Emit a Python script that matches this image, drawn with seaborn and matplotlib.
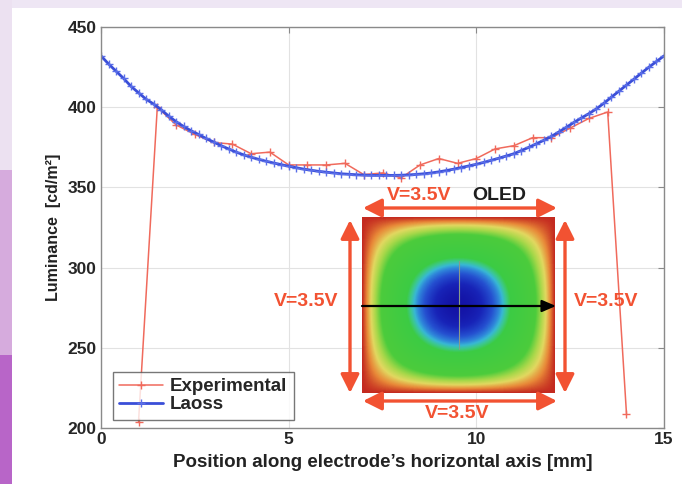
import numpy as np
import pandas as pd
import matplotlib
matplotlib.use("Agg")
import matplotlib.pyplot as plt
import seaborn as sns
from matplotlib.colors import LinearSegmentedColormap
from matplotlib.patches import Rectangle, FancyArrowPatch

# ---------------- data ----------------
exp_x = [1.0, 1.5, 2.0, 2.5, 3.0, 3.5, 4.0, 4.5, 5.0, 5.5, 6.0, 6.5, 7.0, 7.5,
         8.0, 8.5, 9.0, 9.5, 10.0, 10.5, 11.0, 11.5, 12.0, 12.5, 13.0, 13.5, 14.0]
exp_y = [204, 400, 389, 383, 378, 377, 371, 372, 364, 364, 364, 365, 358, 359,
         356, 364, 368, 365, 368, 374, 376, 381, 381, 387, 393, 397, 209]

laoss_x = [0.0, 0.2, 0.4, 0.6, 0.8, 1.0, 1.2, 1.4, 1.6, 1.8, 2.0, 2.2, 2.4, 2.6,
           2.8, 3.0, 3.2, 3.4, 3.6, 3.8, 4.0, 4.2, 4.4, 4.6, 4.8, 5.0, 5.2, 5.4,
           5.6, 5.8, 6.0, 6.2, 6.4, 6.6, 6.8, 7.0, 7.2, 7.4, 7.6, 7.8, 8.0, 8.2,
           8.4, 8.6, 8.8, 9.0, 9.2, 9.4, 9.6, 9.8, 10.0, 10.2, 10.4, 10.6, 10.8,
           11.0, 11.2, 11.4, 11.6, 11.8, 12.0, 12.2, 12.4, 12.6, 12.8, 13.0, 13.2,
           13.4, 13.6, 13.8, 14.0, 14.2, 14.4, 14.6, 14.8, 15.0]
laoss_y = [432, 427, 422.5, 418, 413, 409, 405, 402, 398.5, 394.5, 391, 388,
           385.3, 383, 380.5, 378.3, 376, 374, 372, 370.3, 368.8, 367.5, 366.3,
           365.2, 364.2, 363.2, 362.3, 361.4, 360.7, 360, 359.5, 359, 358.5,
           358.2, 357.9, 357.7, 357.5, 357.5, 357.5, 357.5, 357.6, 357.8, 358.1,
           358.5, 359, 359.7, 360.5, 361.4, 362.4, 363.4, 364.4, 365.6, 366.9,
           368.2, 369.6, 371, 373, 375, 377.2, 379.4, 381.8, 384.6, 387.5, 390.5,
           393.3, 396, 399, 402.5, 406.3, 410, 413.8, 417.5, 421.3, 425, 428.5, 432]

x_ticks = [0, 5, 10, 15]
y_ticks = [200, 250, 300, 350, 400, 450]
series_names = ["Experimental", "Laoss"]
voltage_label = "V=3.5V"
device_label = "OLED"

# ---------------- style ----------------
sns.set_style("white")
plt.rcParams["font.family"] = ["Liberation Sans", "DejaVu Sans"]
plt.rcParams["font.weight"] = "bold"

W, H = 682, 484
fig = plt.figure(figsize=(W / 100, H / 100), dpi=100)
fig.patch.set_facecolor("white")


def fx(px):
    return px / W


def fy(py):
    return 1 - py / H


# background decoration (slide edges)
fig.add_artist(Rectangle((0, fy(8)), 1, 8 / H, transform=fig.transFigure,
                         facecolor="#eee6f4", edgecolor="none", zorder=-5))
fig.add_artist(Rectangle((0, fy(170)), fx(12), 170 / H, transform=fig.transFigure,
                         facecolor="#ece1f1", edgecolor="none", zorder=-5))
fig.add_artist(Rectangle((0, fy(355)), fx(12), 185 / H, transform=fig.transFigure,
                         facecolor="#d6abdd", edgecolor="none", zorder=-5))
fig.add_artist(Rectangle((0, 0), fx(12), fy(355), transform=fig.transFigure,
                         facecolor="#b865c8", edgecolor="none", zorder=-5))

ax = fig.add_axes([fx(101), fy(428), fx(664) - fx(101), fy(27) - fy(428)])

df_exp = pd.DataFrame({"x": exp_x, "y": exp_y})
df_la = pd.DataFrame({"x": laoss_x, "y": laoss_y})

sns.lineplot(data=df_exp, x="x", y="y", ax=ax, color="#f06a5c", linewidth=1.1,
             marker="+", markersize=6, markeredgewidth=1.0,
             markeredgecolor="#f06a5c", label=series_names[0], sort=False)
sns.lineplot(data=df_la, x="x", y="y", ax=ax, color="#3a4ed8", linewidth=2.0,
             marker="+", markersize=6, markeredgewidth=1.0,
             markeredgecolor="#5a6ee8", label=series_names[1], sort=False)

ax.set_xlim(0, 15)
ax.set_ylim(200, 450)
ax.set_xticks(x_ticks)
ax.set_yticks(y_ticks)
ax.grid(True, color="#e2e2e2", linewidth=0.8)
for s in ax.spines.values():
    s.set_color("#8a8a8a")
    s.set_linewidth(1.0)
ax.tick_params(direction="in", top=True, right=True, length=4, color="#8a8a8a",
               labelsize=12.5, pad=3)
for lab in ax.get_xticklabels() + ax.get_yticklabels():
    lab.set_fontweight("bold")
ax.set_xlabel("Position along electrode\u2019s horizontal axis [mm]",
              fontsize=13.5, fontweight="bold", labelpad=5, color="#222222")
ax.set_ylabel("Luminance  [cd/m\u00b2]", fontsize=11.5, fontweight="bold",
              labelpad=5, color="#222222")

leg = ax.legend(loc="lower left", bbox_to_anchor=(0.021, 0.02), borderaxespad=0,
                frameon=True, fancybox=False, prop={"size": 13.5, "weight": "bold"},
                handlelength=2.3, handletextpad=0.4, borderpad=0.35,
                labelspacing=0.05, numpoints=1)
leg.get_frame().set_edgecolor("#555555")
leg.get_frame().set_linewidth(1.0)

# ---------------- OLED inset illustration ----------------
iax = fig.add_axes([fx(362), fy(393), fx(555) - fx(362), fy(217) - fy(393)])
g = np.linspace(-1, 1, 300)
U, V = np.meshgrid(g, g)
field = 1 - np.cos(np.pi * U / 2) * np.cos(np.pi * V / 2)
cmap = LinearSegmentedColormap.from_list("oled", [
    (0.0, "#1414a6"), (0.07, "#1824b8"), (0.15, "#2550d0"), (0.21, "#2f86da"),
    (0.25, "#38b8d4"), (0.29, "#3cc890"), (0.34, "#3ccb44"), (0.70, "#4ccc3c"),
    (0.79, "#a8d84a"), (0.86, "#e2d860"), (0.93, "#e88838"), (1.0, "#c42a20")])
iax.imshow(field, cmap=cmap, extent=[-1, 1, -1, 1], aspect="auto", vmin=0, vmax=1)
iax.plot([0, 0], [-0.5, 0.5], color="#8a9a8a", linewidth=0.8)
iax.set_axis_off()

red = "#f25232"
arrow_kw = dict(arrowstyle="<|-|>,head_length=0.8,head_width=0.4",
                color=red, linewidth=2.4, shrinkA=0, shrinkB=0, mutation_scale=14)
for (x0, y0, x1, y1) in [(363, 208, 557, 208), (363, 401, 557, 401),
                         (350, 220, 350, 393), (565, 220, 565, 393)]:
    fig.add_artist(FancyArrowPatch(
        (fx(x0), fy(y0)), (fx(x1), fy(y1)), transform=fig.transFigure, **arrow_kw))

fig.add_artist(FancyArrowPatch(
    (fx(362), fy(306)), (fx(556), fy(306)), transform=fig.transFigure,
    arrowstyle="-|>,head_length=0.7,head_width=0.3", color="black",
    linewidth=1.6, shrinkA=0, shrinkB=0, mutation_scale=12))

tkw = dict(fontsize=14, fontweight="bold", ha="center", va="center")
fig.text(fx(419), fy(196), voltage_label, color=red, **tkw)
fig.text(fx(499), fy(196), device_label, color="#1e1e1e", **tkw)
fig.text(fx(306), fy(302), voltage_label, color=red, **tkw)
fig.text(fx(606), fy(302), voltage_label, color=red, **tkw)
fig.text(fx(457), fy(413), voltage_label, color=red, **tkw)

fig.savefig("out.png", dpi=100, facecolor=fig.get_facecolor())
